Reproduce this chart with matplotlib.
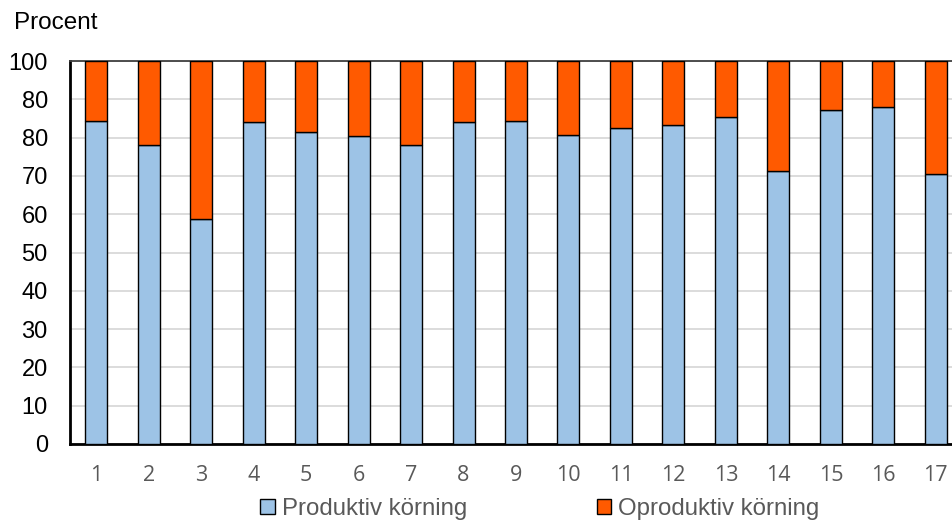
import matplotlib.pyplot as plt
from matplotlib.patches import Patch
import numpy as np

# Share of productive vs unproductive driving per unit, in percent
units = [str(i) for i in range(1, 18)]
produktiv = [84.3, 78.0, 58.7, 84.0, 81.5, 80.4, 78.0, 84.0, 84.3, 80.7,
             82.5, 83.3, 85.3, 71.4, 87.3, 88.0, 70.6]
oproduktiv = [100 - v for v in produktiv]

y_ticks = [0, 10, 20, 30, 40, 50, 60, 70, 80, 90, 100]
y_tick_labels = ["0", "10", "20", "30", "40", "50", "60", "70", "80", "80", "100"]

BLUE = "#9DC3E6"
ORANGE = "#FF5A00"
TEXT_GREY = "#595959"

fig = plt.figure(figsize=(9.52, 5.21), dpi=100)
ax = fig.add_axes([70 / 952, 1 - 444 / 521, 892 / 952, 383 / 521])

x = np.arange(1, len(units) + 1)
ax.bar(x, produktiv, width=0.42, color=BLUE, edgecolor="black", linewidth=1.0, zorder=3)
ax.bar(x, oproduktiv, bottom=produktiv, width=0.42, color=ORANGE, edgecolor="black",
       linewidth=1.0, zorder=3)

ax.set_xlim(0.5, 17.5)
ax.set_ylim(0, 100)
ax.set_yticks(y_ticks)
ax.set_yticklabels(y_tick_labels, fontsize=17, family="Liberation Sans", color="black")
ax.set_xticks(x)
ax.set_xticklabels(units, fontsize=15.5, family="Open Sans", color=TEXT_GREY)
ax.tick_params(axis="y", length=0, pad=16)
ax.tick_params(axis="x", length=0, pad=15)

ax.yaxis.grid(True, color="#d9d9d9", linewidth=1.3, zorder=0)
ax.set_axisbelow(True)
ax.spines["right"].set_visible(False)
ax.spines["top"].set_color("#404040")
ax.spines["top"].set_linewidth(1.3)
ax.spines["left"].set_color("black")
ax.spines["left"].set_linewidth(2)
ax.spines["bottom"].set_color("black")
ax.spines["bottom"].set_linewidth(2)

fig.text(14 / 952, 1 - 23 / 521, "Procent", fontsize=17.5, family="Liberation Sans",
         va="center", ha="left", color="black")

handles = [Patch(facecolor=BLUE, edgecolor="black", linewidth=1.0),
           Patch(facecolor=ORANGE, edgecolor="black", linewidth=1.0)]
fig.legend(handles, ["Produktiv körning", "Oproduktiv körning"], ncol=2,
           loc="center", bbox_to_anchor=(540 / 952, 1 - 509 / 521), frameon=False,
           prop={"family": "Liberation Sans", "size": 17.3}, labelcolor=TEXT_GREY,
           handlelength=0.6, handleheight=0.6, handletextpad=0.3, columnspacing=5.4,
           borderpad=0)

fig.savefig("out.png", dpi=100)
